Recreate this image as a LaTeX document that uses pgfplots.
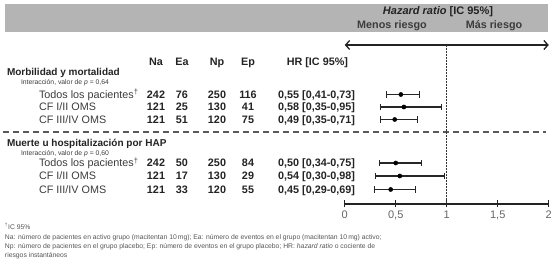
\documentclass[border=0pt]{standalone}
\usepackage{pgfplots}
\pgfplotsset{compat=1.18}
\usepackage{fontspec}
\setmainfont{Liberation Sans}
\usetikzlibrary{arrows.meta}
\definecolor{band}{RGB}{180,180,180}
\definecolor{txt}{RGB}{35,35,35}
\definecolor{lab}{RGB}{60,60,60}
\definecolor{foot}{RGB}{85,85,85}
\newcommand{\fs}[1]{\fontsize{#1}{#1}\selectfont}
\begin{document}
\begin{tikzpicture}[x=1pt,y=1pt, every node/.style={inner sep=0pt, outer sep=0pt}]
\path[use as bounding box] (0,0) rectangle (560,-264);
% header band
\fill[band] (5,-4) rectangle (548,-32);
\node[anchor=base, text=txt] at (438,-15) {\fs{11}\bfseries\itshape Hazard ratio\upshape\ [IC 95\%]};
\node[anchor=base, text=lab] at (392,-29) {\fs{10.8}\bfseries Menos riesgo};
\node[anchor=base, text=lab] at (494,-29) {\fs{10.8}\bfseries Más riesgo};
% column headers
\foreach \x/\t in {156/Na,182/Ea,217/Np,248/Ep}
  \node[anchor=base, text=txt] at (\x,-66) {\fs{10.8}\bfseries \t};
\node[anchor=base east, text=txt] at (348,-66) {\fs{10.8}\bfseries HR [IC 95\%]};
% group 1
\node[anchor=base west, text=txt] at (7,-75.7) {\fs{10}\bfseries Morbilidad y mortalidad};
\node[anchor=base west, text=lab] at (21,-84.5) {\fs{6.8}Interacción, valor de \textit{p} = 0,64};
% group 2
\node[anchor=base west, text=txt] at (7,-146.7) {\fs{10}\bfseries Muerte u hospitalización por HAP};
\node[anchor=base west, text=lab] at (21,-155.5) {\fs{6.8}Interacción, valor de \textit{p} = 0,60};
% rows
\foreach \y/\lbl/\na/\ea/\np/\ep/\hr in {
  94.5/{Todos los pacientes\textsuperscript{†}}/242/76/250/116/{0,55 [0,41-0,73]},
  107/{CF I/II OMS}/121/25/130/41/{0,58 [0,35-0,95]},
  119.5/{CF III/IV OMS}/121/51/120/75/{0,49 [0,35-0,71]},
  163/{Todos los pacientes\textsuperscript{†}}/242/50/250/84/{0,50 [0,34-0,75]},
  176/{CF I/II OMS}/121/17/130/29/{0,54 [0,30-0,98]},
  189.5/{CF III/IV OMS}/121/33/120/55/{0,45 [0,29-0,69]}}{
  \node[anchor=base west, text=lab] at (39,-\y-4) {\fs{10.8}\lbl};
  \node[anchor=base, text=txt] at (156,-\y-4) {\fs{10.8}\bfseries\na};
  \node[anchor=base, text=txt] at (182,-\y-4) {\fs{10.8}\bfseries\ea};
  \node[anchor=base, text=txt] at (217,-\y-4) {\fs{10.8}\bfseries\np};
  \node[anchor=base, text=txt] at (248,-\y-4) {\fs{10.8}\bfseries\ep};
  \node[anchor=base east, text=txt] at (355,-\y-4) {\fs{10.8}\bfseries\hr};
}
% separator
\draw[dash pattern=on 6pt off 4pt, line width=1.3pt, black!65] (3,-132) -- (546,-132);
% footnotes
\node[anchor=base west, text=foot] at (5,-229.5) {\fs{6.8}\textsuperscript{†}IC 95\%};
\node[anchor=base west, text=foot] at (5,-240) {\fs{6.8}Na: número de pacientes en activo grupo (macitentan 10\,mg); Ea: número de eventos en el grupo (macitentan 10\,mg) activo;};
\node[anchor=base west, text=foot] at (5,-248.5) {\fs{6.8}Np: número de pacientes en el grupo placebo; Ep: número de eventos en el grupo placebo; HR: \textit{hazard ratio} o cociente de};
\node[anchor=base west, text=foot] at (5,-258) {\fs{6.8}riesgos instantáneos};
% forest axis
\begin{axis}[at={(338,-204)}, anchor=south west, scale only axis,
  width=204pt, height=159pt, xmin=0, xmax=2, ymin=-204, ymax=-45,
  clip=false, axis x line*=bottom, axis y line=none,
  xtick={0,0.5,1,1.5,2}, xticklabels={0,{0,5},1,{1,5},2},
  tick align=center, major tick length=7pt,
  x axis line style={line width=1.2pt, txt},
  every tick/.style={line width=1.2pt, txt},
  xticklabel style={font=\fs{11}, text=black!60, yshift=-3pt},
  /pgf/number format/assume math mode=true]
\addplot[line width=1.3pt, txt, {Straight Barb[length=4pt,width=9pt]}-{Straight Barb[length=4pt,width=9pt]}]
  coordinates {(0,-45) (2,-45)};
\addplot[line width=0.9pt, black!80, dash pattern=on 2pt off 1pt] coordinates {(1,-45) (1,-204)};
% CI lines
\addplot[line width=1.1pt, black!85] coordinates {(0.41,-94.5) (0.73,-94.5)};
\addplot[line width=1.1pt, black!85] coordinates {(0.35,-107) (0.95,-107)};
\addplot[line width=1.1pt, black!85] coordinates {(0.35,-119.5) (0.71,-119.5)};
\addplot[line width=1.1pt, black!85] coordinates {(0.34,-163) (0.75,-163)};
\addplot[line width=1.1pt, black!85] coordinates {(0.30,-176) (0.98,-176)};
\addplot[line width=1.1pt, black!85] coordinates {(0.29,-189.5) (0.69,-189.5)};
% CI caps
\addplot[only marks, mark=|, mark size=3.2pt, black!85, mark options={line width=1.1pt}]
  coordinates {(0.41,-94.5) (0.73,-94.5) (0.35,-107) (0.95,-107) (0.35,-119.5) (0.71,-119.5)
               (0.34,-163) (0.75,-163) (0.30,-176) (0.98,-176) (0.29,-189.5) (0.69,-189.5)};
% point estimates
\addplot[only marks, mark=*, mark size=2.1pt, black]
  coordinates {(0.55,-94.5) (0.58,-107) (0.49,-119.5) (0.50,-163) (0.54,-176) (0.45,-189.5)};
\end{axis}
\end{tikzpicture}
\end{document}
